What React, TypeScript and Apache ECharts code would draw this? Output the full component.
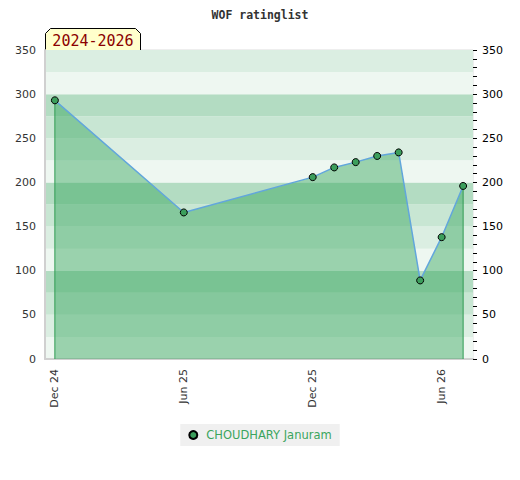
import React, { useEffect, useRef } from "react";
import * as echarts from "echarts";

const titleText = "WOF ratinglist";
const periodText = "2024-2026";
const playerName = "CHOUDHARY Januram";
const months = ["2024-12", "2025-06", "2025-12", "2026-01", "2026-02", "2026-03", "2026-04", "2026-05", "2026-06", "2026-07"];
const ratings = [293, 166, 206, 217, 223, 230, 234, 89, 138, 196];
const tickMonths = ["2024-12", "2025-06", "2025-12", "2026-06"];
const tickLabels = ["Dec 24", "Jun 25", "Dec 25", "Jun 26"];
const bandColors = ["#eef7f1", "#dbeee2", "#c8e6d3", "#b3dcc2"];

const monthIndex = (m: string) => {
  const [y, mo] = m.split("-").map(Number);
  return (y - 2024) * 12 + (mo - 12);
};

export default function App() {
  const ref = useRef<HTMLDivElement>(null);
  useEffect(() => {
    if (!ref.current) return;
    const chart = echarts.init(ref.current, undefined, { renderer: "svg" });
    const xs = months.map(monthIndex);
    const data = xs.map((x, i) => [x, ratings[i]]);
    const tickXs = tickMonths.map(monthIndex);
    const first = data[0];
    const last = data[data.length - 1];
    const green = "#3c9e5c";
    const edgeSeries = (pt: number[], id: string) => ({
      id,
      type: "line",
      data: [[pt[0], 0], [pt[0], pt[1]]],
      symbol: "none",
      silent: true,
      lineStyle: { color: "#2f9a50", width: 1 },
      z: 4,
    });
    chart.setOption({
      animation: false,
      backgroundColor: "#ffffff",
      title: {
        text: titleText,
        left: "center",
        top: 4,
        textStyle: { fontFamily: "DejaVu Sans Mono", fontSize: 11.5, fontWeight: "bold", color: "#333" },
      },
      grid: { left: 45, right: 47, top: 50, bottom: 121, show: true, borderColor: "#dddddd", borderWidth: 1, backgroundColor: "transparent" },
      legend: {
        bottom: 34,
        left: "center",
        icon: "circle",
        itemWidth: 8,
        itemHeight: 8,
        backgroundColor: "#f0f0f0",
        padding: [5, 8, 5, 8],
        textStyle: { color: "#3ba55d", fontFamily: "DejaVu Sans", fontSize: 11.5, padding: [0, 0, 0, 4] },
        data: [playerName],
      },
      xAxis: {
        type: "value",
        min: -0.46,
        max: 19.46,
        axisLine: { show: true, onZero: false, lineStyle: { color: "#d0d0d0", width: 2 } },
        axisTick: { show: false },
        splitLine: { show: false },
        axisLabel: {
          customValues: tickXs,
          rotate: 90,
          margin: 10,
          color: "#333",
          fontFamily: "DejaVu Sans",
          fontSize: 11,
          formatter: (v: number) => {
            const i = tickXs.indexOf(Math.round(v));
            return i >= 0 ? tickLabels[i] : "";
          },
        },
      },
      yAxis: [
        {
          type: "value",
          min: 0,
          max: 350,
          interval: 50,
          position: "left",
          axisLine: { show: true, onZero: false, lineStyle: { color: "#d0d0d0", width: 2 } },
          axisTick: { show: false },
          splitLine: { show: false },
          axisLabel: { color: "#333", fontFamily: "DejaVu Sans", fontSize: 11, margin: 9 },
        },
        {
          type: "value",
          min: 0,
          max: 350,
          interval: 50,
          position: "right",
          axisLine: { show: false, onZero: false },
          axisTick: { show: true, length: 4, lineStyle: { color: "#000" } },
          minorTick: { show: true, splitNumber: 5, length: 4, lineStyle: { color: "#000" } },
          splitLine: { show: false },
          axisLabel: { color: "#000", fontFamily: "DejaVu Sans", fontSize: 11, margin: 9 },
        },
        {
          type: "value",
          min: 0,
          max: 350,
          interval: 25,
          position: "left",
          axisLine: { show: false, onZero: false },
          axisTick: { show: false },
          axisLabel: { show: false },
          splitLine: { show: false },
          splitArea: { show: true, areaStyle: { color: bandColors } },
          z: 0,
        },
      ],
      series: [
        {
          name: playerName,
          type: "line",
          data,
          yAxisIndex: 0,
          symbol: "circle",
          symbolSize: 7,
          itemStyle: { color: green, borderColor: "#000", borderWidth: 1 },
          lineStyle: { color: "#62a6dc", width: 1.5 },
          areaStyle: { color: "rgb(52,165,92)", opacity: 0.45, origin: "start" },
          z: 5,
        },
        edgeSeries(first, "edgeFirst"),
        edgeSeries(last, "edgeLast"),
      ],
      graphic: [
        {
          type: "group",
          left: 45,
          top: 28,
          children: [
            {
              type: "polygon",
              shape: { points: [[0, 22], [0, 5], [5, 0], [90, 0], [95, 5], [95, 22]] },
              style: { fill: "#ffffcc", stroke: "#000", lineWidth: 1 },
            },
            {
              type: "text",
              x: 47.5,
              y: 12,
              style: {
                text: periodText,
                fill: "#8b0000",
                font: "15px 'DejaVu Sans Mono'",
                textAlign: "center",
                textVerticalAlign: "middle",
              },
            },
          ],
        },
      ],
    });
    return () => chart.dispose();
  }, []);
  return <div ref={ref} style={{ position: "fixed", left: 0, top: 0, width: 520, height: 480 }} />;
}
